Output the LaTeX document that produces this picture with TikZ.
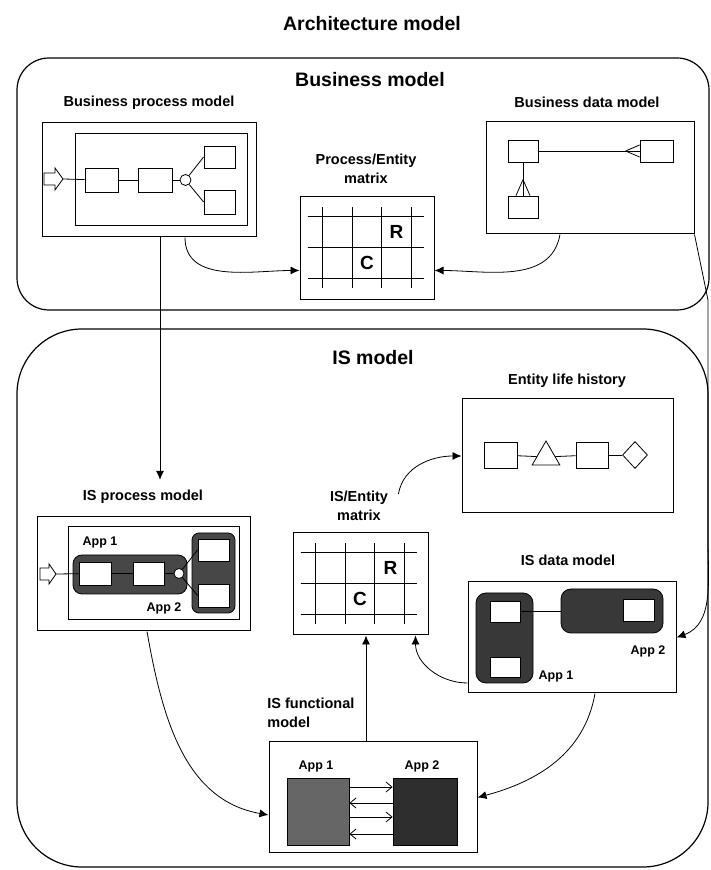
\documentclass[tikz,border=0pt]{standalone}
\usepackage{fontspec}
\setmainfont{Liberation Sans}
\usetikzlibrary{shapes.geometric,arrows.meta}

\tikzset{
  bigbox/.style={draw, line width=1.2pt, rounded corners=#1},
  frame/.style={draw, line width=1pt, inner sep=0pt},
  ebox/.style={draw, fill=white, inner sep=0pt, minimum width=32pt, minimum height=23pt},
  appbox/.style={draw, fill=black!72, rounded corners=9pt, inner sep=0pt},
  title/.style={font=\fontsize{19.5}{23}\selectfont\bfseries, inner sep=0pt},
  lbl/.style={font=\fontsize{14.5}{19}\selectfont\bfseries, align=center, inner sep=0pt},
  applbl/.style={font=\fontsize{12.5}{15}\selectfont\bfseries, inner sep=0pt},
  cell/.style={font=\fontsize{19}{22}\selectfont\bfseries, inner sep=0pt},
  barb/.style={-{Straight Barb[length=6pt,width=10pt]}},
}
\newcommand{\mxgrid}[1]{%
  \foreach \gx in {23,53,82,112}
    \draw ([shift={(\gx,-11)}]#1.north west) -- ([shift={(\gx,-92)}]#1.north west);
  \foreach \gy in {20,51,82}
    \draw ([shift={(8,-\gy)}]#1.north west) -- ([shift={(124,-\gy)}]#1.north west);
}

\begin{document}
\begin{tikzpicture}[x=1pt, y=1pt, >={Latex[length=9pt,width=8pt]}, line width=0.8pt]
\useasboundingbox (0,0) rectangle (710,870);
\node[title] (arch) at (372,846) {Architecture model};
\draw[bigbox=32pt] (17,560) rectangle (709,812);
\node[title] (busm) at (370,790) {Business model};
\draw[bigbox=65pt] (17,3) rectangle (708,541);
\node[title] (ism) at (373,512) {IS model};

% business process model
\node[lbl] (bpmlbl) at (149,767) {Business process model};
\node[frame, minimum width=214pt, minimum height=114pt] (bpm) at (149,690) {};
\node[frame, minimum width=172pt, minimum height=92pt] (bpmin) at (161,690) {};
\draw (44,685) -- (55,685) -- (55,680) -- (63,691) -- (55,702) -- (55,697) -- (44,697) -- cycle;
\coordinate (bpin) at (63,691);
\node[ebox, minimum width=33pt, minimum height=24pt] (b1) at (101.5,690) {};
\node[ebox, minimum width=34pt, minimum height=24pt] (b2) at (155,690) {};
\node[draw, circle, minimum size=11pt, inner sep=0pt] (bc) at (185.5,690) {};
\node[ebox, minimum width=31pt, minimum height=22pt] (b3) at (219.5,713) {};
\node[ebox, minimum width=31pt, minimum height=24pt] (b4) at (219.5,668) {};
\draw (bpin) -- (b1);
\draw (b1) -- (b2);
\draw (b2) -- (bc);
\draw (bc) -- (b3.west);
\draw (bc) -- (b4.west);

% business data model
\node[lbl] (bdmlbl) at (587,768) {Business data model};
\node[frame, minimum width=208pt, minimum height=112pt] (bdm) at (590,692) {};
\node[ebox, minimum width=30pt, minimum height=22pt] (da) at (523,719) {};
\node[ebox, minimum width=30pt, minimum height=22pt] (db) at (523,663) {};
\node[ebox, minimum width=33pt, minimum height=22pt] (dc) at (656.5,719) {};
\draw (da) -- (dc);
\draw (da) -- (db);
\draw ([xshift=-14pt]dc.west) -- ([yshift=6pt]dc.west) ([xshift=-14pt]dc.west) -- ([yshift=-6pt]dc.west);
\draw ([yshift=16pt]db.north) -- ([xshift=-7pt]db.north) ([yshift=16pt]db.north) -- ([xshift=7pt]db.north);

% process/entity matrix
\node[lbl] (pemlbl) at (366,701.5) {Process/Entity\\matrix};
\node[frame, minimum width=134pt, minimum height=103pt] (pem) at (367,621.5) {};
\mxgrid{pem}
\node[cell] (pemr) at ([shift={(97,-35.5)}]pem.north west) {R};
\node[cell] (pemc) at ([shift={(67.5,-66.5)}]pem.north west) {C};
\draw[->] ([xshift=36pt]bpm.south) to[out=-90,in=180] ([yshift=-22pt]pem.west);
\draw[->] ([xshift=-30pt]bdm.south) to[out=-100,in=0] ([yshift=-22pt]pem.east);

% IS process model
\node[lbl] (ispmlbl) at (143,373) {IS process model};
\node[frame, minimum width=213pt, minimum height=114pt] (ispm) at (143.5,296) {};
\node[frame, minimum width=171pt, minimum height=93pt] (ispmin) at (153.5,296.5) {};
\node[appbox, minimum width=114pt, minimum height=39pt] (pa1) at (130,295.5) {};
\node[appbox, rounded corners=7pt, minimum width=43pt, minimum height=80pt] (pa2) at (213.5,297) {};
\draw[fill=white] (40,290) -- (49,290) -- (49,286) -- (56,296) -- (49,306) -- (49,302) -- (40,302) -- cycle;
\coordinate (pin) at (56,296);
\node[ebox, minimum width=32pt] (p1) at (95,296.5) {};
\node[ebox, minimum width=31pt] (p2) at (148.5,296.5) {};
\node[draw, fill=white, circle, minimum size=10pt, inner sep=0pt] (pc) at (179,296.5) {};
\node[ebox, minimum width=31pt, minimum height=22pt] (p3) at (213.5,320) {};
\node[ebox, minimum width=31pt] (p4) at (213.5,274.5) {};
\draw (pin) -- (p1);
\draw (p1) -- (p2);
\draw (p2) -- (pc);
\draw (pc) -- (p3.west);
\draw (pc) -- (p4.west);
\node[applbl] (pa1lbl) at (100,327) {App 1};
\node[applbl] (pa2lbl) at (164,262) {App 2};
\draw[->, shorten >=10pt] ([xshift=11pt]bpm.south) -- ([xshift=11pt]bpm.south |- ispmlbl.north);

% IS/entity matrix
\node[lbl] (isemlbl) at (359,364) {IS/Entity\\matrix};
\node[frame, minimum width=135pt, minimum height=102pt] (isem) at (360.5,286) {};
\mxgrid{isem}
\node[cell] (isemr) at ([shift={(98,-35.5)}]isem.north west) {R};
\node[cell] (isemc) at ([shift={(67.5,-66.5)}]isem.north west) {C};

% entity life history
\node[lbl] (elhlbl) at (567,489) {Entity life history};
\node[frame, minimum width=211pt, minimum height=114pt] (elh) at (567.5,414) {};
\node[ebox, minimum width=33pt, minimum height=26pt] (e1) at (500.5,415) {};
\node[draw, regular polygon, regular polygon sides=3, minimum size=32pt, inner sep=0pt] (e2) at (546,413) {};
\node[ebox, minimum width=32pt, minimum height=26pt] (e3) at (592,415) {};
\node[draw, diamond, minimum width=25pt, minimum height=27pt, inner sep=0pt] (e4) at (635,415) {};
\draw (e1) -- (e2);
\draw (e2) -- (e3);
\draw (e3) -- (e4);
\draw[->] ([xshift=10pt,yshift=12pt]isemlbl.east) to[out=80,in=180] (elh.west);

% IS data model
\node[lbl] (isdmlbl) at (568,310) {IS data model};
\node[frame, minimum width=208pt, minimum height=111pt] (isdm) at (572,232.5) {};
\node[appbox, fill=black!78, rounded corners=10pt, minimum width=57pt, minimum height=90pt] (da1) at (504.5,232) {};
\node[appbox, fill=black!78, rounded corners=10pt, minimum width=102pt, minimum height=44pt] (da2) at (612,259) {};
\node[ebox, minimum width=30pt, minimum height=21pt] (d1) at (505,258.5) {};
\node[ebox, minimum width=30pt, minimum height=20pt] (d2) at (505,203) {};
\node[ebox, minimum width=31pt, minimum height=22pt] (d3) at (638.5,260) {};
\draw (d1.east) -- (da2.west |- d1.east);
\node[applbl] (da1lbl) at (556,194) {App 1};
\node[applbl] (da2lbl) at (648,219) {App 2};
\coordinate (rt1) at (708,570);
\coordinate (rt2) at (708,330);
\draw[->] (bdm.south east) -- (rt1) -- (rt2) to[out=-90,in=20] (isdm.east);
\draw[->] ([yshift=-45.5pt]isdm.west) to[out=180,in=-90] ([xshift=55pt]isem.south);

% IS functional model
\node[lbl, align=left, anchor=west] (isfmlbl) at (267,157) {IS functional\\model};
\node[frame, minimum width=208pt, minimum height=111pt] (isfm) at (373,72.5) {};
\node[draw, fill=black!60, minimum width=62pt, minimum height=67pt, inner sep=0pt] (f1) at (318,58.5) {};
\node[draw, fill=black!82, minimum width=64pt, minimum height=67pt, inner sep=0pt] (f2) at (425,58.5) {};
\node[applbl] (f1lbl) at (316,104) {App 1};
\node[applbl] (f2lbl) at (422,104) {App 2};
\draw[barb] ([yshift=24.5pt]f1.east) -- ([yshift=24.5pt]f2.west);
\draw[barb] ([yshift=8.5pt]f2.west) -- ([yshift=8.5pt]f1.east);
\draw[barb] ([yshift=-5.5pt]f1.east) -- ([yshift=-5.5pt]f2.west);
\draw[barb] ([yshift=-22.5pt]f2.west) -- ([yshift=-22.5pt]f1.east);
\draw[->] ([xshift=-7pt]isfm.north) -- ([xshift=-7pt]isfm.north |- isem.south);
\draw[->] ([xshift=3.5pt]ispm.south) to[out=-80,in=170] ([yshift=-17.5pt]isfm.west);
\draw[->] ([xshift=23pt]isdm.south) to[out=-100,in=15] (isfm.east);
\end{tikzpicture}
\end{document}
